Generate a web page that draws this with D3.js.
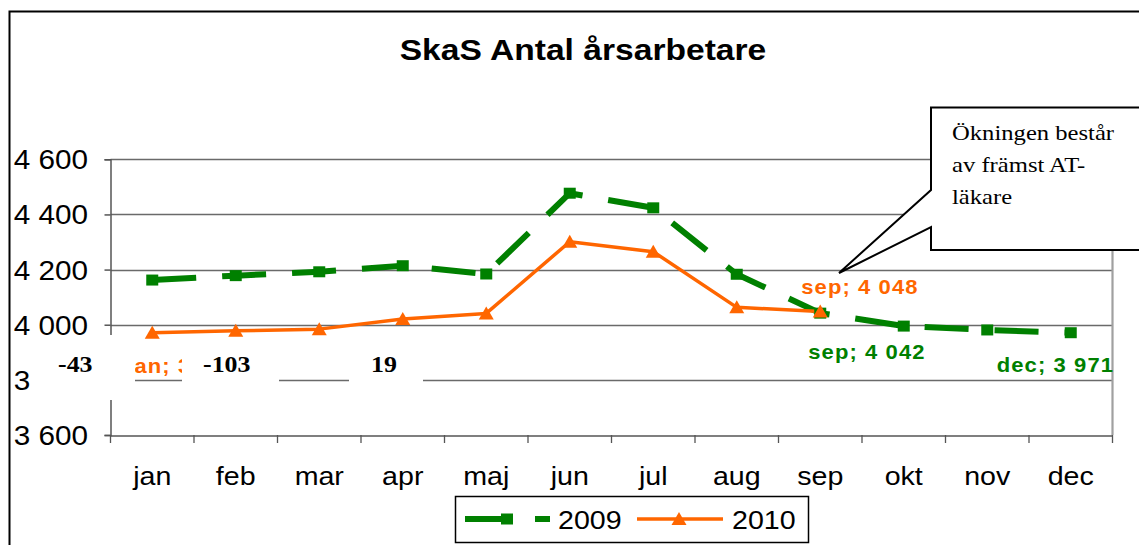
<!DOCTYPE html>
<html><head><meta charset="utf-8">
<script src="https://cdn.jsdelivr.net/npm/d3@7"></script>
<style>html,body{margin:0;padding:0;background:#fff;overflow:hidden}</style>
</head><body>
<svg id="c" width="1139" height="545"></svg>
<script>
// ---- data ----
const months = ["jan","feb","mar","apr","maj","jun","jul","aug","sep","okt","nov","dec"];
const values2009 = [4162,4178,4192,4214,4184,4477,4424,4183,4042,3995,3981,3971];
const values2010 = [3971,3978,3984,4021,4041,4301,4265,4063,4048];
const yTickValues = [3600,3800,4000,4200,4400,4600];
const yTickLabels = ["3 600","3 800","4 000","4 200","4 400","4 600"];
const seriesNames = ["2009","2010"];
const title = "SkaS Antal årsarbetare";
const diffLabels = ["-43","-103","19"];
const calloutLines = ["Ökningen består","av främst AT-","läkare"];
const labels2010 = ["jan; 3","sep; 4 048"];
const labels2009 = ["sep; 4 042","dec; 3 971"];

// ---- setup ----
const svg = d3.select("#c");
const green = "#008000", orange = "#FF6600";
const x = d3.scaleBand(months, [110.5, 1112.5]);
const y = d3.scaleLinear([3600, 4600], [435, 159.3]);
const cx = m => x(m) + x.bandwidth() / 2;

function txt(parent, px, py, s, o) {
  const t = parent.append("text")
    .attr("transform", `translate(${px},${py}) scale(${o.sx || 1},1)`)
    .attr("font-family", o.family || "Liberation Sans, Arial, sans-serif")
    .attr("font-size", o.size)
    .attr("font-weight", o.weight || "normal")
    .attr("fill", o.fill || "#000")
    .attr("text-anchor", o.anchor || "start")
    .text(s);
  if (o.ls) t.attr("letter-spacing", o.ls);
  return t;
}

// clips for texts partly hidden behind the white boxes
const defs = svg.append("defs");
defs.append("clipPath").attr("id", "janclip")
  .append("rect").attr("x", 135).attr("y", 330).attr("width", 47).attr("height", 60);
defs.append("clipPath").attr("id", "tickclip")
  .append("rect").attr("x", 0).attr("y", 335).attr("width", 33).attr("height", 65);

// outer frame
svg.append("path").attr("d", "M9.5,545 V11.5 H1139").attr("fill", "none").attr("stroke", "#000").attr("stroke-width", 2);

// title
txt(svg, 583, 60, title, {size: 30, weight: "bold", anchor: "middle", sx: 1.12});

// gridlines
svg.append("g").selectAll("line").data(yTickValues.slice(1)).join("line")
  .attr("x1", 110.5).attr("x2", 1112.5)
  .attr("y1", d => Math.round(y(d)) + 0.5).attr("y2", d => Math.round(y(d)) + 0.5)
  .attr("stroke", "#6a6a6a").attr("stroke-width", 1.4);

// plot right border
svg.append("line").attr("x1", 1112.5).attr("x2", 1112.5).attr("y1", y(4600)).attr("y2", y(3600))
  .attr("stroke", "#a0a0a0").attr("stroke-width", 2.2);

// y axis
const yAxis = d3.axisLeft(y).tickValues(yTickValues).tickSize(6).tickFormat(() => "");
const gy = svg.append("g").attr("transform", "translate(110.5,0)").call(yAxis);
gy.selectAll("path,line").attr("stroke", "#555").attr("stroke-width", 1.5);
yTickValues.forEach((v, i) => {
  const g = v === 3800 ? svg.append("g").attr("clip-path", "url(#tickclip)") : svg;
  txt(g, 88, y(v) + 10, yTickLabels[i], {size: 27, anchor: "end", sx: 1.1});
});

// x axis
const gx = svg.append("g").attr("transform", "translate(0,435.5)")
  .call(d3.axisBottom(x).tickSize(0).tickFormat(() => ""));
gx.select("path").attr("stroke", "#555").attr("stroke-width", 1.5);
const boundaries = months.map(m => x(m)).concat([x.range()[1]]);
svg.append("g").selectAll("line").data(boundaries).join("line")
  .attr("x1", d => d).attr("x2", d => d).attr("y1", 435).attr("y2", 443)
  .attr("stroke", "#555").attr("stroke-width", 1.3);
months.forEach(m => txt(svg, cx(m), 485, m, {size: 26, anchor: "middle", sx: 1.1}));

// orange jan label (partly hidden behind white boxes)
svg.append("g").attr("clip-path", "url(#janclip)").call(g =>
  txt(g, cx("jan") - 25, y(values2010[0]) + 40, labels2010[0], {size: 20, weight: "bold", fill: orange, sx: 1.1, ls: 1}));

// white boxes with black labels
const boxes = [[33, 135], [182, 279], [349, 423]];
const boxTextX = [58, 203, 371];
boxes.forEach((b, i) => {
  svg.append("rect").attr("x", b[0]).attr("y", 335).attr("width", b[1] - b[0]).attr("height", 65).attr("fill", "#fff");
  txt(svg, boxTextX[i], 372, diffLabels[i], {size: 24, weight: "bold", family: "Liberation Serif, Times New Roman, serif", sx: 1.08});
});

// series lines
const line = d3.line().x((d, i) => cx(months[i])).y(d => y(d));
svg.append("path").datum(values2009).attr("d", line).attr("fill", "none")
  .attr("stroke", green).attr("stroke-width", 6).attr("stroke-dasharray", "44 26");
svg.append("path").datum(values2010).attr("d", line).attr("fill", "none")
  .attr("stroke", orange).attr("stroke-width", 3.5).attr("stroke-linejoin", "round");

// markers
svg.append("g").selectAll("rect").data(values2009).join("rect")
  .attr("x", (d, i) => cx(months[i]) - 6).attr("y", d => y(d) - 5.5)
  .attr("width", 12).attr("height", 11).attr("fill", green);
const tri = "M0,-8 L7.5,5 L-7.5,5 Z";
svg.append("g").selectAll("path").data(values2010).join("path")
  .attr("d", tri).attr("transform", (d, i) => `translate(${cx(months[i])},${y(d) + 1})`).attr("fill", orange);

// point labels
txt(svg, cx("sep") - 19, y(values2010[8]) - 17.5, labels2010[1], {size: 20, weight: "bold", fill: orange, sx: 1.1, ls: 1});
txt(svg, cx("sep") - 12, y(values2009[8]) + 46, labels2009[0], {size: 20, weight: "bold", fill: green, sx: 1.1, ls: 1});
txt(svg, cx("dec") - 74, y(values2009[11]) + 39.5, labels2009[1], {size: 20, weight: "bold", fill: green, sx: 1.1, ls: 1});

// callout
svg.append("path").attr("d", "M931,107.5 H1145 V250 H931 V227 L839,273 L931,190 Z")
  .attr("fill", "#fff").attr("stroke", "#000").attr("stroke-width", 2);
calloutLines.forEach((s, i) => txt(svg, 952, 140 + i * 32, s, {size: 22, family: "Liberation Serif, Times New Roman, serif", sx: 1.12}));

// legend
const lg = svg.append("g");
lg.append("rect").attr("x", 455.5).attr("y", 496.5).attr("width", 353).attr("height", 46)
  .attr("fill", "#fff").attr("stroke", "#000").attr("stroke-width", 1.5);
lg.append("line").attr("x1", 465).attr("x2", 550).attr("y1", 519).attr("y2", 519)
  .attr("stroke", green).attr("stroke-width", 6).attr("stroke-dasharray", "42 28 15 100");
lg.append("rect").attr("x", 501).attr("y", 513.5).attr("width", 12).attr("height", 11).attr("fill", green);
txt(lg, 558, 529, seriesNames[0], {size: 26, sx: 1.1});
lg.append("line").attr("x1", 637).attr("x2", 723).attr("y1", 519).attr("y2", 519)
  .attr("stroke", orange).attr("stroke-width", 3.5);
lg.append("path").attr("d", tri).attr("transform", "translate(679,520)").attr("fill", orange);
txt(lg, 732, 529, seriesNames[1], {size: 26, sx: 1.1});
</script>
</body></html>
